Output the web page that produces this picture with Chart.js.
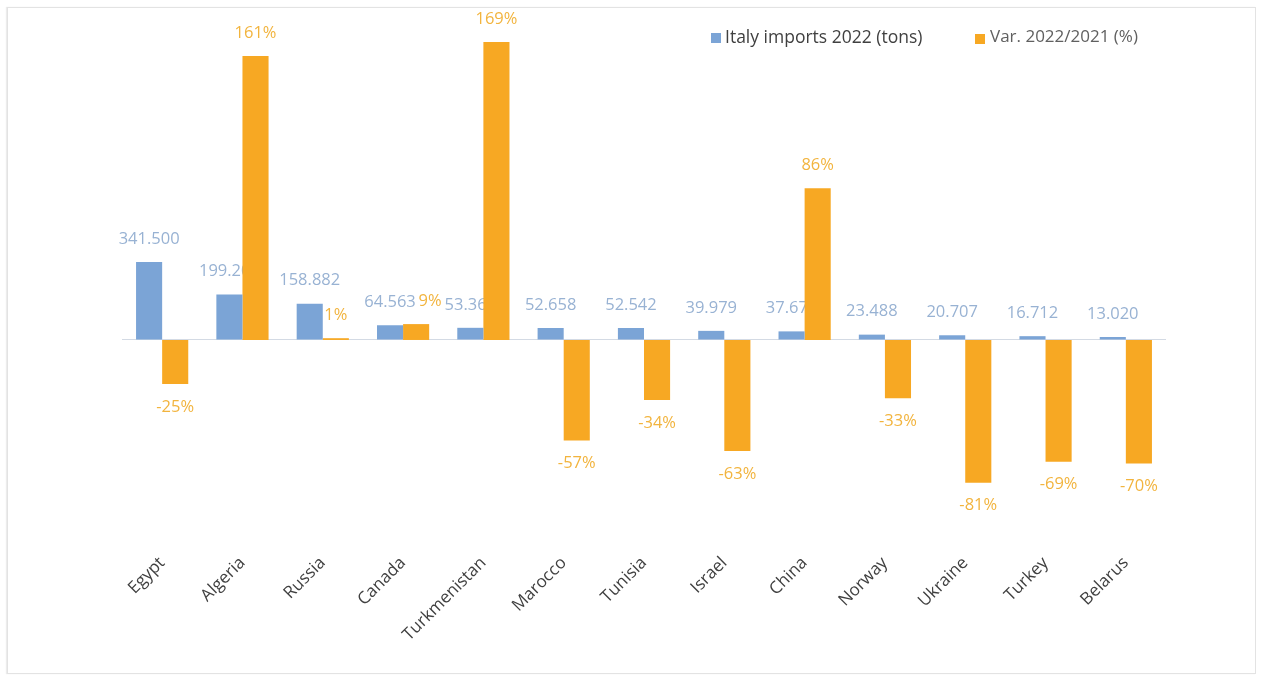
<!DOCTYPE html>
<html>
<head>
<meta charset="utf-8">
<script src="https://cdn.jsdelivr.net/npm/chart.js@4.4.1/dist/chart.umd.min.js"></script>
<style>
  html, body { margin: 0; padding: 0; background: #ffffff; }
  #wrap { position: relative; width: 1262px; height: 678px; overflow: hidden; background: #fff; }
  #frame { position: absolute; left: 7px; top: 7px; width: 1247px; height: 665px; border: 1px solid #e3e3e3; box-shadow: -1px 0 1px #ececec; }
  #chart { position: absolute; left: 0; top: 0; }
  .lg { position: absolute; font-family: "Open Sans", sans-serif; font-size: 17.5px; line-height: 20px; white-space: nowrap; }
  .sw { position: absolute; width: 10px; height: 10px; }
</style>
</head>
<body>
<div id="wrap">
  <div id="frame"></div>
  <canvas id="chart" width="1262" height="678"></canvas>
  <div class="sw" style="left:711px;top:33px;background:#7BA4D6;"></div>
  <div class="lg" style="left:725px;top:26px;color:#404040;">Italy imports 2022 (tons)</div>
  <div class="sw" style="left:975px;top:34px;background:#F7A823;"></div>
  <div class="lg" style="left:990px;top:26px;color:#606060;font-size:17px;">Var. 2022/2021 (%)</div>
</div>
<script>
const categories = ["Egypt", "Algeria", "Russia", "Canada", "Turkmenistan", "Marocco", "Tunisia", "Israel", "China", "Norway", "Ukraine", "Turkey", "Belarus"];
const imports2022 = [341500, 199200, 158882, 64563, 53368, 52658, 52542, 39979, 37678, 23488, 20707, 16712, 13020];
const variationPct = [-25, 161, 1, 9, 169, -57, -34, -63, 86, -33, -81, -69, -70];
const seriesNames = ["Italy imports 2022 (tons)", "Var. 2022/2021 (%)"];

const BLUE = "#7BA4D6";
const ORANGE = "#F7A823";
const BLUE_LABEL = "#98B2D3";
const ORANGE_LABEL = "#F2B43E";

// small horizontal nudges of individual value labels (dataset -> index -> px), as in the original
const labelNudge = { 1: { 3: 14 } };

function fmtTons(v) { return String(v).replace(/\B(?=(\d{3})+(?!\d))/g, "."); }
function fmtPct(v) { return v + "%"; }

function drawLabels(chart, di) {
  const meta = chart.getDatasetMeta(di);
  const ctx = chart.ctx;
  const data = chart.data.datasets[di].data;
  const nudge = labelNudge[di] || {};
  ctx.save();
  ctx.font = '16.5px "Open Sans", sans-serif';
  ctx.textAlign = "center";
  ctx.textBaseline = "middle";
  ctx.fillStyle = di === 0 ? BLUE_LABEL : ORANGE_LABEL;
  meta.data.forEach((bar, i) => {
    const v = data[i];
    const p = bar.getProps(["x", "y"], true);
    const yy = v >= 0 ? p.y - 23 : p.y + 23;
    ctx.fillText(di === 0 ? fmtTons(v) : fmtPct(v), p.x + (nudge[i] || 0), yy);
  });
  ctx.restore();
}

const valueLabels = {
  id: "valueLabels",
  beforeDatasetsDraw(chart) { drawLabels(chart, 0); },
  afterDatasetsDraw(chart) { drawLabels(chart, 1); }
};

new Chart(document.getElementById("chart"), {
  type: "bar",
  data: {
    labels: categories,
    datasets: [
      { label: seriesNames[0], data: imports2022, backgroundColor: BLUE, yAxisID: "yTons", categoryPercentage: 0.65, barPercentage: 1.0 },
      { label: seriesNames[1], data: variationPct, backgroundColor: ORANGE, yAxisID: "yPct", categoryPercentage: 0.65, barPercentage: 1.0 }
    ]
  },
  options: {
    responsive: false,
    animation: false,
    layout: { padding: { left: 122, right: 96, top: 30, bottom: 0 } },
    plugins: { legend: { display: false }, tooltip: { enabled: false } },
    scales: {
      x: {
        grid: { display: false, drawTicks: false },
        border: { display: false },
        ticks: {
          autoSkip: false, minRotation: 45, maxRotation: 45, padding: 48,
          color: "#404040", font: { family: "Open Sans", size: 17 }
        },
        afterFit(scale) { scale.height = 173; }
      },
      yTons: {
        display: true, position: "left",
        min: -722400, max: 1357200,
        ticks: { display: false },
        border: { display: false },
        grid: { drawTicks: false, color: (c) => c.tick.value === 0 ? "#D3DAE4" : "rgba(0,0,0,0)", lineWidth: 1 },
        afterFit(scale) { scale.width = 0; }
      },
      yPct: {
        display: true, position: "right",
        min: -93.6, max: 175.8,
        ticks: { display: false },
        border: { display: false },
        grid: { display: false, drawTicks: false },
        afterFit(scale) { scale.width = 0; }
      }
    }
  },
  plugins: [valueLabels]
});
</script>
</body>
</html>
